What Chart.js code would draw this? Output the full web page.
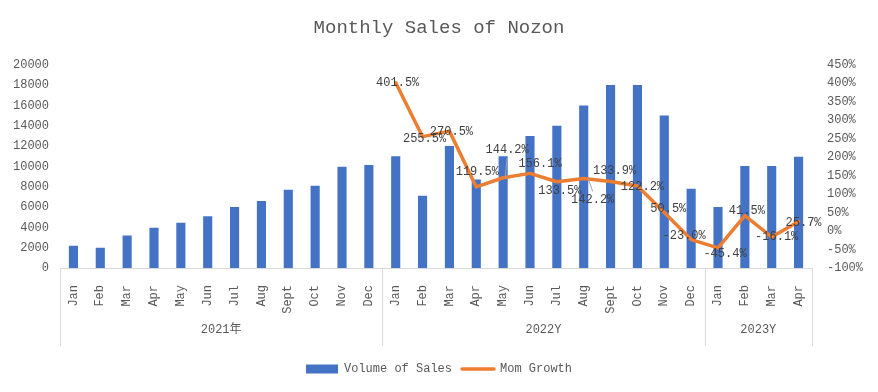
<!DOCTYPE html>
<html>
<head>
<meta charset="utf-8">
<script src="https://cdn.jsdelivr.net/npm/chart.js@4"></script>
<style>
  html, body { margin: 0; padding: 0; background: #fff; }
  #wrap { width: 878px; height: 392px; }
</style>
</head>
<body>
<div id="wrap"><canvas id="salesChart"></canvas></div>
<script>
// chart data
const months = ["Jan", "Feb", "Mar", "Apr", "May", "Jun", "Jul", "Aug", "Sept", "Oct", "Nov", "Dec",
  "Jan", "Feb", "Mar", "Apr", "May", "Jun", "Jul", "Aug", "Sept", "Oct", "Nov", "Dec",
  "Jan", "Feb", "Mar", "Apr"];
const yearGroups = ["2021年", "2022Y", "2023Y"];
const yearSpans = [12, 12, 4];
const salesVolume = [2200, 2000, 3200, 3950, 4450, 5100, 6000, 6600, 7700, 8100, 9970, 10130,
  11000, 7100, 12000, 8700, 11000, 13000, 14000, 16000, 18000, 18000, 15000, 7800,
  6000, 10050, 10050, 10950];
const momGrowth = [null, null, null, null, null, null, null, null, null, null, null, null,
  401.5, 255.5, 270.5, 119.5, 144.2, 156.1, 133.5, 142.2, 133.9, 122.2, 50.5, -23.0,
  -45.4, 41.5, -16.1, 25.7];
const salesAxis = { min: 0, max: 20000, step: 2000 };
const growthAxis = { min: -100, max: 450, step: 50 };

const MONO = "'Liberation Mono', 'Noto Sans CJK SC', monospace";
const TEXT = "#595959";

// where Excel put each growth label, relative to its point (dx, dy, leader line)
const labelNudge = [
  [2, 0], [2, 2], [2, 1], [1, -15], [4, -28, true], [10, -10], [3, 9], [9, 21, true],
  [4, -11], [5, 1], [4, -4], [-7, -4], [7, 6], [2, -5], [5, 0], [5, 1]
];

const growthLabels = {
  id: "growthLabels",
  afterDatasetsDraw(chart) {
    const ctx = chart.ctx;
    const meta = chart.getDatasetMeta(1);
    ctx.save();
    ctx.font = "12px " + MONO;
    ctx.textAlign = "center";
    ctx.textBaseline = "middle";
    let k = 0;
    meta.data.forEach((pt, i) => {
      const v = momGrowth[i];
      if (v === null) return;
      const [dx, dy, leader] = labelNudge[k++] || [0, 0];
      const lx = pt.x + dx, ly = pt.y + dy;
      if (leader) {
        ctx.strokeStyle = "#a6a6a6";
        ctx.lineWidth = 1;
        ctx.beginPath();
        ctx.moveTo(lx, ly + (dy < 0 ? 8 : -8));
        ctx.lineTo(pt.x + dx / 2, pt.y);
        ctx.stroke();
      }
      ctx.fillStyle = "#404040";
      ctx.fillText(v.toFixed(1) + "%", lx, ly);
    });
    ctx.restore();
  }
};

const yearBands = {
  id: "yearBands",
  afterDraw(chart) {
    const ctx = chart.ctx;
    const x = chart.scales.x;
    const top = chart.chartArea.bottom;
    const bottom = top + 78;
    const edges = [0];
    yearSpans.forEach((n) => edges.push(edges[edges.length - 1] + n));
    ctx.save();
    ctx.strokeStyle = "#d9d9d9";
    ctx.lineWidth = 1;
    edges.forEach((i) => {
      const px = Math.round(x.getPixelForValue(i - 0.5)) + 0.5;
      ctx.beginPath();
      ctx.moveTo(px, top);
      ctx.lineTo(px, bottom);
      ctx.stroke();
    });
    ctx.fillStyle = TEXT;
    ctx.font = "12px " + MONO;
    ctx.textAlign = "center";
    ctx.textBaseline = "middle";
    yearGroups.forEach((name, g) => {
      const a = x.getPixelForValue(edges[g] - 0.5);
      const b = x.getPixelForValue(edges[g + 1] - 0.5);
      ctx.fillText(name, (a + b) / 2, top + 62);
    });
    ctx.restore();
  }
};

new Chart(document.getElementById("salesChart"), {
  data: {
    labels: months,
    datasets: [
      {
        type: "bar",
        label: "Volume of Sales",
        data: salesVolume,
        backgroundColor: "#4472C4",
        barPercentage: 0.34,
        categoryPercentage: 1,
        yAxisID: "y",
        order: 1,
      },
      {
        type: "line",
        label: "Mom Growth",
        data: momGrowth,
        borderColor: "#ED7D31",
        backgroundColor: "#ED7D31",
        borderWidth: 3.5,
        borderJoinStyle: "round",
        borderCapStyle: "round",
        pointRadius: 0,
        tension: 0,
        yAxisID: "y1",
        order: 0,
      },
    ],
  },
  options: {
    responsive: true,
    maintainAspectRatio: false,
    animation: false,
    layout: { padding: { left: 0, right: 0, top: 0, bottom: 7 } },
    scales: {
      x: {
        offset: true,
        grid: { display: false },
        border: { display: true, color: "#d9d9d9" },
        ticks: {
          autoSkip: false,
          maxRotation: 90,
          minRotation: 90,
          padding: 9,
          color: TEXT,
          font: { family: MONO, size: 12 },
        },
        afterFit: (scale) => { scale.height = 85; },
      },
      y: {
        position: "left",
        min: salesAxis.min,
        max: salesAxis.max,
        grid: { display: false, drawTicks: false },
        border: { display: false },
        ticks: {
          stepSize: salesAxis.step,
          padding: 11,
          color: TEXT,
          font: { family: MONO, size: 12 },
          callback: (v) => String(v),
        },
        afterFit: (scale) => { scale.width = 60; },
      },
      y1: {
        position: "right",
        min: growthAxis.min,
        max: growthAxis.max,
        grid: { display: false, drawTicks: false },
        border: { display: false },
        ticks: {
          stepSize: growthAxis.step,
          padding: 15,
          color: TEXT,
          font: { family: MONO, size: 12 },
          callback: (v) => v + "%",
        },
        afterFit: (scale) => { scale.width = 66; },
      },
    },
    plugins: {
      title: {
        display: true,
        text: "Monthly Sales of Nozon",
        color: TEXT,
        font: { family: MONO, size: 19, weight: "normal" },
        padding: { top: 17, bottom: 25 },
      },
      legend: {
        position: "bottom",
        labels: {
          color: TEXT,
          font: { family: MONO, size: 12 },
          usePointStyle: true,
          pointStyleWidth: 32,
          boxHeight: 9,
          generateLabels: (chart) => {
            const items = Chart.defaults.plugins.legend.labels.generateLabels(chart);
            items.sort((a, b) => a.datasetIndex - b.datasetIndex);
            items.forEach((it) => {
              if (it.datasetIndex === 0) {
                it.pointStyle = "rect";
                it.lineWidth = 0;
              } else {
                it.pointStyle = "line";
                it.lineWidth = 3.5;
                it.lineCap = "round";
              }
            });
            return items;
          },
        },
      },
      tooltip: { enabled: false },
    },
  },
  plugins: [growthLabels, yearBands],
});
</script>
</body>
</html>
